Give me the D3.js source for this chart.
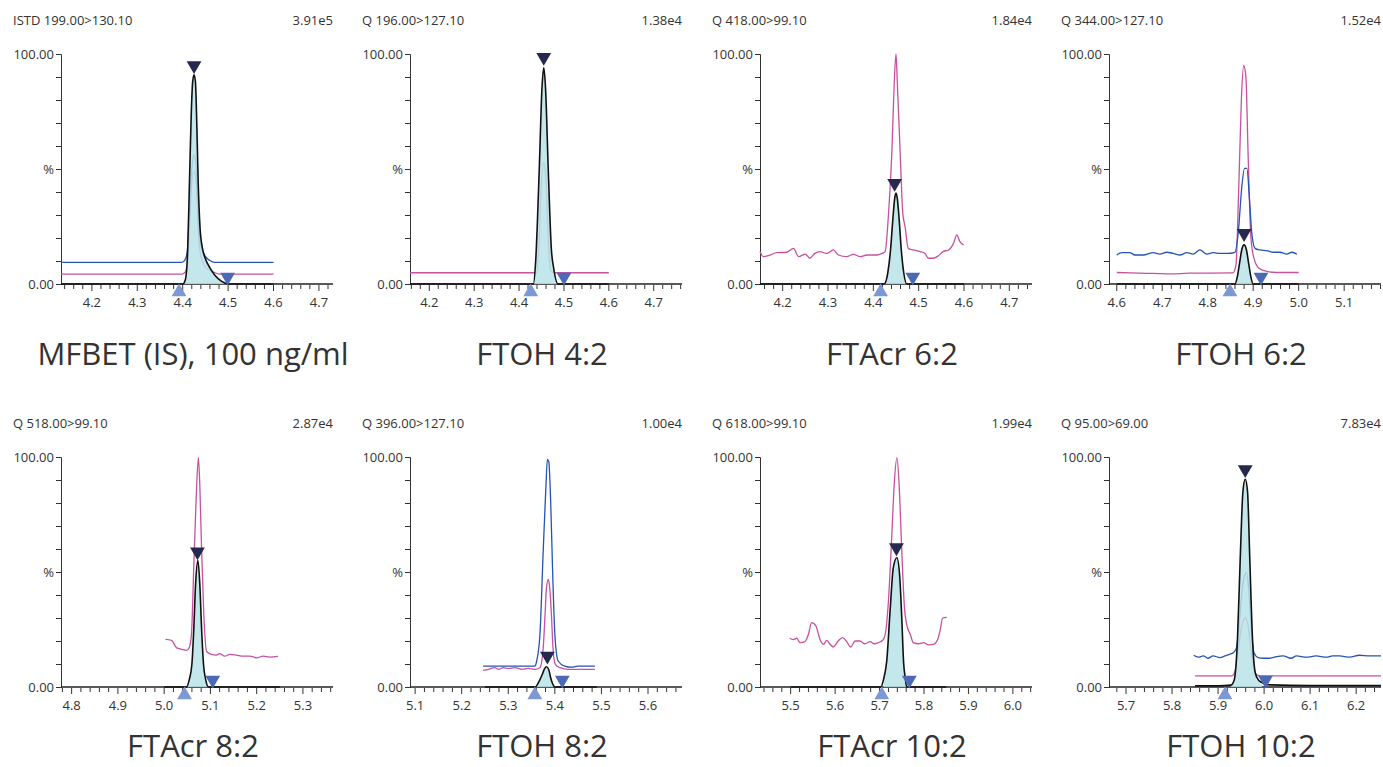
<!DOCTYPE html>
<html>
<head>
<meta charset="utf-8">
<script src="https://cdn.jsdelivr.net/npm/d3@7"></script>
<style>
  body { margin: 0; background: #fff; }
  text { font-family: "Open Sans", "Noto Sans", sans-serif; fill: #333; }
</style>
</head>
<body>
<div id="chart"></div>
<script>
// panel texts
const titles = ["MFBET (IS), 100 ng/ml", "FTOH 4:2", "FTAcr 6:2", "FTOH 6:2",
                "FTAcr 8:2", "FTOH 8:2", "FTAcr 10:2", "FTOH 10:2"];
const channels = ["ISTD 199.00>130.10", "Q 196.00>127.10", "Q 418.00>99.10", "Q 344.00>127.10",
                  "Q 518.00>99.10", "Q 396.00>127.10", "Q 618.00>99.10", "Q 95.00>69.00"];
const maxCounts = ["3.91e5", "1.38e4", "1.84e4", "1.52e4", "2.87e4", "1.00e4", "1.99e4", "7.83e4"];

// retention time window of each panel (min)
const xDomains = [[4.132, 4.731], [4.157, 4.763], [4.15, 4.75], [4.583, 5.181],
                  [4.777, 5.365], [5.089, 5.673], [5.431, 6.043], [5.663, 6.254]];

// integration markers: apex (x, %), peak start, peak end
const apexX = [4.425, 4.455, 4.447, 4.880, 5.072, 5.384, 5.738, 5.959];
const apexY = [95, 98.6, 43.8, 22, 58.8, 13.5, 60.6, 94.6];
const startX = [4.392, 4.426, 4.416, 4.849, 5.044, 5.357, 5.705, 5.915];
const endX = [4.499, 4.500, 4.487, 4.917, 5.105, 5.416, 5.767, 6.003];

// traces [rt, %]
const p1Black = [[4.132,0],[4.400,0],[4.406,2],[4.411,15],[4.415,45],[4.419,75],[4.422,88],[4.425,91],[4.428,88],[4.431,70],[4.434,45],[4.438,25],[4.443,16],[4.450,11],[4.460,7],[4.470,4],[4.480,2],[4.492,0.5],[4.500,0],[4.600,0]];
const p1Blue = [[4.132,9.4],[4.398,9.4],[4.405,10.5],[4.410,14],[4.415,30],[4.420,50],[4.425,56],[4.430,50],[4.434,30],[4.438,19],[4.443,15],[4.450,12],[4.460,10.2],[4.470,9.4],[4.600,9.4]];
const p1Pink = [[4.132,4.3],[4.398,4.3],[4.405,5],[4.410,8],[4.415,25],[4.420,44],[4.425,49],[4.430,44],[4.434,25],[4.440,12],[4.450,7.5],[4.460,6],[4.470,5],[4.480,4.3],[4.600,4.3]];

const p2Black = [[4.157,0],[4.432,0],[4.437,10],[4.445,50],[4.451,85],[4.455,94],[4.459,85],[4.465,50],[4.472,15],[4.477,7],[4.487,0],[4.600,0]];
const p2Pink = [[4.157,4.9],[4.440,4.9],[4.445,20],[4.450,45],[4.455,53],[4.460,45],[4.465,20],[4.470,6],[4.480,4.9],[4.600,4.9]];

const p3Black = [[4.15,0],[4.424,0],[4.432,5],[4.438,15],[4.443,28],[4.447,37],[4.450,39.5],[4.453,37],[4.457,28],[4.462,14],[4.467,5],[4.474,0],[4.6,0]];
const p3Pink = [[4.150,14.1],[4.157,11.9],[4.172,12.6],[4.187,13.6],[4.209,13.8],[4.224,15.5],[4.235,11.9],[4.250,13],[4.260,11.2],[4.271,13.3],[4.282,14.1],[4.297,13.3],[4.312,14.8],[4.323,12.6],[4.341,11.9],[4.356,12.9],[4.371,11.9],[4.386,12.6],[4.408,12.6],[4.419,13.3],[4.426,14.1],[4.433,29],[4.441,58],[4.446,87],[4.450,100],[4.453,87],[4.459,58],[4.465,30.7],[4.470,25],[4.477,15.5],[4.488,14.8],[4.503,14.1],[4.514,13.3],[4.521,11.2],[4.532,11.2],[4.543,12.2],[4.554,14.1],[4.566,14.8],[4.577,17.7],[4.584,21.4],[4.591,18.4],[4.599,17]];

const p4Black = [[4.6,0],[4.860,0],[4.865,3],[4.870,9],[4.875,15],[4.880,17],[4.885,15],[4.890,9],[4.895,3],[4.900,0],[5.0,0]];
const p4Blue = [[4.600,12.6],[4.611,13.6],[4.629,13.6],[4.640,12.6],[4.658,12.6],[4.680,13.6],[4.695,13.0],[4.710,13.8],[4.724,13.3],[4.739,12.6],[4.754,13.6],[4.768,13.0],[4.783,14.8],[4.798,13.0],[4.812,13.6],[4.827,13.3],[4.842,13.3],[4.860,13.8],[4.867,22],[4.875,42.3],[4.881,50.3],[4.886,50.3],[4.892,36.5],[4.897,22],[4.904,15.5],[4.915,14.8],[4.930,14.5],[4.944,13.8],[4.959,13.8],[4.974,13.0],[4.985,13.8],[4.996,13.0]];
const p4Pink = [[4.6,5.0],[4.63,4.8],[4.68,4.6],[4.72,4.4],[4.76,4.7],[4.80,4.7],[4.855,4.8],[4.862,8],[4.868,40],[4.874,80],[4.879,95],[4.884,90],[4.889,55],[4.895,20],[4.902,11],[4.912,7],[4.93,5.5],[4.95,5.0],[5.0,5.0]];

const p5Black = [[5.0,0],[5.048,0],[5.054,3],[5.060,10],[5.064,25],[5.068,45],[5.073,55],[5.077,45],[5.081,25],[5.085,10],[5.090,3],[5.096,0],[5.25,0]];
const p5Pink = [[5.003,20.7],[5.016,20.3],[5.027,17],[5.038,16.4],[5.048,15.9],[5.054,17],[5.059,22.9],[5.064,51.9],[5.069,80.9],[5.074,99.7],[5.077,88],[5.081,59.1],[5.086,30],[5.092,15.3],[5.102,14.2],[5.113,13.9],[5.120,14.5],[5.131,13.4],[5.142,14.2],[5.156,13.9],[5.171,13.4],[5.185,13.4],[5.200,12.7],[5.214,13.4],[5.228,13],[5.246,13.3]];

const p6Black = [[5.25,0],[5.358,0],[5.365,2],[5.372,5],[5.378,8],[5.382,8.8],[5.387,7.5],[5.391,4],[5.395,1.5],[5.40,0],[5.49,0]];
const p6Blue = [[5.246,9.1],[5.357,9.1],[5.361,11.3],[5.368,22.9],[5.375,59],[5.381,88],[5.384,99],[5.387,98],[5.391,80.9],[5.395,51.9],[5.400,22.9],[5.407,11.3],[5.421,9.1],[5.436,8.6],[5.450,9.1],[5.486,9.1]];
const p6Pink = [[5.246,7.2],[5.257,7.7],[5.271,8.4],[5.279,7.7],[5.289,8.4],[5.300,8.0],[5.314,8.4],[5.329,7.7],[5.343,8.1],[5.357,7.7],[5.368,8.4],[5.375,17],[5.379,31.5],[5.382,43.1],[5.386,46.8],[5.389,43],[5.393,30],[5.396,17],[5.401,9.8],[5.411,8.4],[5.429,7.7],[5.486,7.7]];

const p7Black = [[5.5,0],[5.703,0],[5.709,3.3],[5.716,11],[5.724,34],[5.731,52],[5.739,56.2],[5.745,49],[5.750,30],[5.754,11],[5.758,3.6],[5.761,0],[5.85,0]];
const p7Pink = [[5.498,21.2],[5.506,20.6],[5.514,21.2],[5.521,19.3],[5.532,19.7],[5.540,22.9],[5.547,28],[5.557,26.5],[5.566,20.7],[5.574,18.5],[5.581,20.3],[5.589,18.5],[5.596,17.4],[5.607,20],[5.617,21.5],[5.626,19.7],[5.635,17.4],[5.645,20],[5.656,20],[5.667,18.8],[5.679,19.7],[5.688,18.8],[5.697,19.3],[5.707,20.3],[5.712,22.2],[5.720,37.4],[5.727,63.5],[5.733,88.1],[5.739,99.7],[5.744,88.1],[5.750,59.1],[5.756,34.5],[5.761,27.2],[5.769,22.9],[5.776,19.3],[5.788,18.8],[5.799,19.3],[5.810,18.3],[5.821,18.5],[5.830,20.3],[5.836,24.3],[5.842,30],[5.851,30.3]];

const p8Black = [[5.85,0.5],[5.90,0.5],[5.928,0.8],[5.935,3],[5.942,20],[5.948,55],[5.954,85],[5.959,90.3],[5.964,85],[5.969,55],[5.975,20],[5.981,6],[5.988,3],[5.995,2],[6.005,1],[6.10,0.6],[6.254,0.6]];
const p8Blue = [[5.847,13.8],[5.857,13],[5.868,13.5],[5.878,12.5],[5.889,13.5],[5.904,12.8],[5.915,13.5],[5.925,14.2],[5.933,14.9],[5.940,17],[5.947,30],[5.954,45.2],[5.962,49.7],[5.967,41.6],[5.972,25.7],[5.978,14.9],[5.987,12.8],[5.998,12.5],[6.012,12.5],[6.027,13.2],[6.041,13.5],[6.059,12.5],[6.070,13.5],[6.092,13],[6.113,13.5],[6.135,13],[6.149,13.5],[6.164,13.5],[6.186,13],[6.207,13.8],[6.229,13.5],[6.254,13.5]];
const p8Pink = [[5.85,4.8],[5.930,4.8],[5.937,7],[5.945,18],[5.952,27],[5.959,30],[5.965,27],[5.971,17],[5.978,8],[5.985,5.2],[6.0,4.8],[6.254,4.8]];

const blackTraces = [p1Black, p2Black, p3Black, p4Black, p5Black, p6Black, p7Black, p8Black];
const blueTraces = [p1Blue, null, null, p4Blue, null, p6Blue, null, p8Blue];
const pinkTraces = [p1Pink, p2Pink, p3Pink, p4Pink, p5Pink, p6Pink, p7Pink, p8Pink];

const svgWidth = 1383, svgHeight = 767;
const colX = [61, 410, 760, 1109];
const rowY = [54, 457];
const titleY = [311, 300];
const plotW = 272, plotH = 230;

const svg = d3.select("#chart").append("svg")
  .attr("width", svgWidth)
  .attr("height", svgHeight);

const tri = d3.symbol().type(d3.symbolTriangle).size(95);

titles.forEach((title, i) => {
  const row = Math.floor(i / 4);
  const g = svg.append("g")
    .attr("transform", `translate(${colX[i % 4]},${rowY[row]})`);

  const x = d3.scaleLinear().domain(xDomains[i]).range([0, plotW]);
  const y = d3.scaleLinear().domain([0, 100]).range([plotH, 0]);

  // header
  g.append("text").attr("x", -48).attr("y", -29)
    .style("font-size", "13px").text(channels[i]);
  g.append("text").attr("x", plotW).attr("y", -29)
    .attr("text-anchor", "end")
    .style("font-size", "13px").text(maxCounts[i]);

  // y axis
  const yAxis = d3.axisLeft(y).tickValues(d3.range(0, 101, 10)).tickSize(5)
    .tickFormat(d => d === 100 ? "100.00" : d === 50 ? "%" : d === 0 ? "0.00" : "");
  const ya = g.append("g").call(yAxis);
  ya.select(".domain").attr("stroke", "#333");
  ya.selectAll(".tick line").attr("stroke", "#333");
  ya.selectAll("text").style("font-size", "13px").attr("fill", "#333").attr("x", -7);

  // x axis, minor ticks every 0.02
  const [x0, x1] = xDomains[i];
  const minor = d3.range(Math.ceil(x0 * 50 - 1e-6), Math.floor(x1 * 50 + 1e-6) + 1);
  const xa = g.append("g").attr("transform", `translate(0,${plotH})`);
  xa.append("line").attr("x1", 0).attr("x2", plotW)
    .attr("stroke", "#222").attr("stroke-width", 1.5);
  xa.selectAll("line.tk").data(minor).join("line")
    .attr("class", "tk")
    .attr("x1", k => x(k / 50)).attr("x2", k => x(k / 50))
    .attr("y1", 1).attr("y2", k => k % 5 === 0 ? 7 : 5)
    .attr("stroke", "#333").attr("stroke-width", 1);
  xa.selectAll("text").data(minor.filter(k => k % 5 === 0)).join("text")
    .attr("x", k => x(k / 50)).attr("y", 23)
    .attr("text-anchor", "middle")
    .style("font-size", "13px")
    .text(k => d3.format(".1f")(k / 50));

  const line = d3.line().x(d => x(d[0])).y(d => y(d[1])).curve(d3.curveMonotoneX);

  g.append("path").datum(pinkTraces[i])
    .attr("d", line).attr("fill", "none")
    .attr("stroke", "#c7519f").attr("stroke-width", 1.3);
  if (blueTraces[i]) {
    g.append("path").datum(blueTraces[i])
      .attr("d", line).attr("fill", "none")
      .attr("stroke", "#2654b0").attr("stroke-width", 1.3);
  }

  // integrated area
  const peak = blackTraces[i].filter(d => d[0] >= startX[i] && d[0] <= endX[i]);
  const area = d3.area().x(d => x(d[0])).y0(y(0)).y1(d => y(d[1])).curve(d3.curveMonotoneX);
  g.append("path").datum(peak)
    .attr("d", area).attr("fill", "#b9e3e8").attr("fill-opacity", 0.85);

  g.append("path").datum(blackTraces[i])
    .attr("d", line).attr("fill", "none")
    .attr("stroke", "#111").attr("stroke-width", 1.6);

  // markers
  g.append("path").attr("d", tri)
    .attr("transform", `translate(${x(apexX[i])},${y(apexY[i])}) rotate(180)`)
    .attr("fill", "#25284f");
  g.append("path").attr("d", tri)
    .attr("transform", `translate(${x(endX[i])},${plotH - 7}) rotate(180)`)
    .attr("fill", "#4b69b5");
  g.append("path").attr("d", tri)
    .attr("transform", `translate(${x(startX[i])},${plotH + 8})`)
    .attr("fill", "#7d98d2");

  // compound title
  g.append("text")
    .attr("x", plotW / 2 - 4).attr("y", titleY[row])
    .attr("text-anchor", "middle")
    .style("font-size", "31px").attr("fill", "#222")
    .text(title);
});
</script>
</body>
</html>
